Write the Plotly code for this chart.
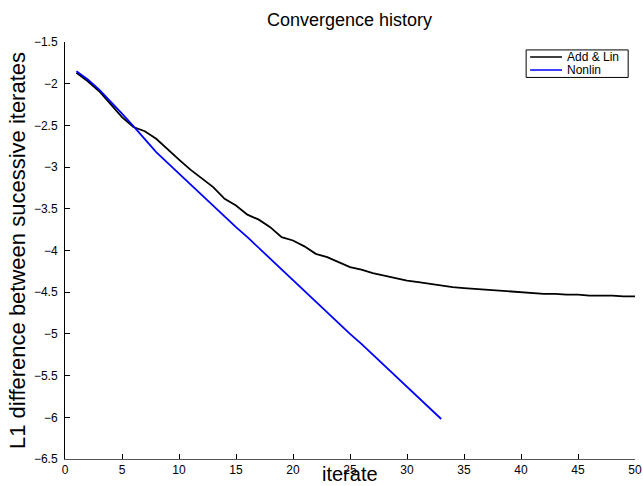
import plotly.graph_objects as go

iterations_add = list(range(1, 51))
add_lin = [-1.87, -1.97, -2.09, -2.24, -2.40, -2.52, -2.57, -2.66, -2.79, -2.91,
           -3.03, -3.14, -3.24, -3.38, -3.46, -3.57, -3.63, -3.72, -3.84, -3.88,
           -3.95, -4.04, -4.08, -4.14, -4.20, -4.23, -4.27, -4.30, -4.33, -4.36,
           -4.38, -4.40, -4.42, -4.44, -4.45, -4.46, -4.47, -4.48, -4.49, -4.50,
           -4.51, -4.52, -4.52, -4.53, -4.53, -4.54, -4.54, -4.54, -4.55, -4.55]

iterations_non = list(range(1, 34))
nonlin = [-1.85, -1.95, -2.07, -2.21, -2.36, -2.51, -2.67, -2.82, -2.95, -3.08,
          -3.21, -3.33, -3.46, -3.59, -3.72, -3.84, -3.97, -4.10, -4.23, -4.36,
          -4.48, -4.61, -4.74, -4.87, -5.00, -5.12, -5.25, -5.38, -5.51, -5.64,
          -5.76, -5.89, -6.02]

series_names = ["Add & Lin", "Nonlin"]
series_colors = ["black", "#0000ff"]

x_ticks = list(range(0, 51, 5))
y_ticks = [-6.5, -6, -5.5, -5, -4.5, -4, -3.5, -3, -2.5, -2, -1.5]

FONT = "Liberation Sans, Arial, Helvetica, sans-serif"

fig = go.Figure()
fig.add_trace(go.Scatter(x=iterations_add, y=add_lin, mode="lines", name=series_names[0],
                         line=dict(color=series_colors[0], width=1.8), showlegend=False))
fig.add_trace(go.Scatter(x=iterations_non, y=nonlin, mode="lines", name=series_names[1],
                         line=dict(color=series_colors[1], width=1.8), showlegend=False))

# compact MATLAB-style legend box
shapes = [dict(type="rect", xref="paper", yref="paper", x0=0.809, x1=0.988, y0=0.915, y1=0.981,
               line=dict(color="black", width=1), fillcolor="white", layer="above")]
annotations = []
leg_rows = [0.964, 0.933]
for name, color, yy in zip(series_names, series_colors, leg_rows):
    shapes.append(dict(type="line", xref="paper", yref="paper", x0=0.816, x1=0.872, y0=yy, y1=yy,
                       line=dict(color=color, width=1.5), layer="above"))
    annotations.append(dict(xref="paper", yref="paper", x=0.878, y=yy, text=name, showarrow=False,
                            xanchor="left", yanchor="middle",
                            font=dict(size=12, family=FONT, color="black")))

# x-axis title placed at the bottom edge, under the tick labels
annotations.append(dict(xref="paper", yref="paper", x=0.5, y=-27 / 417, text="iterate",
                        showarrow=False, xanchor="center", yanchor="bottom", borderpad=0,
                        font=dict(size=20, family=FONT, color="black")))

fig.update_layout(
    width=643, height=486,
    margin=dict(l=65, r=8, t=42, b=27, autoexpand=False),
    paper_bgcolor="white", plot_bgcolor="white",
    font=dict(family=FONT, color="black", size=12),
    title=dict(text="Convergence history", x=0.5435, xanchor="center",
               y=1 - 20 / 486, yanchor="middle", yref="container",
               font=dict(size=18, family=FONT, color="black")),
    showlegend=False,
    shapes=shapes,
    annotations=annotations,
    xaxis=dict(range=[0, 50], tickvals=x_ticks, showgrid=False, zeroline=False,
               showline=True, linecolor="#555555", linewidth=1,
               ticks="inside", ticklen=5, tickcolor="black", automargin=False,
               ticklabelstandoff=0,
               tickfont=dict(size=12, family=FONT)),
    yaxis=dict(range=[-6.5, -1.5], tickvals=y_ticks, showgrid=False, zeroline=False,
               showline=True, linecolor="black", linewidth=1,
               ticks="inside", ticklen=5, tickcolor="black", automargin=False,
               ticklabelstandoff=4,
               tickfont=dict(size=12, family=FONT),
               title=dict(text="L1 difference between sucessive iterates",
                          font=dict(size=22, family=FONT), standoff=2)),
)

# remove the default 8px page margin so the figure fills the 643x486 window exactly
fig.write_html("out.html", config={"displayModeBar": False},
               post_script="document.body.style.margin='0';document.body.style.overflow='hidden';")
